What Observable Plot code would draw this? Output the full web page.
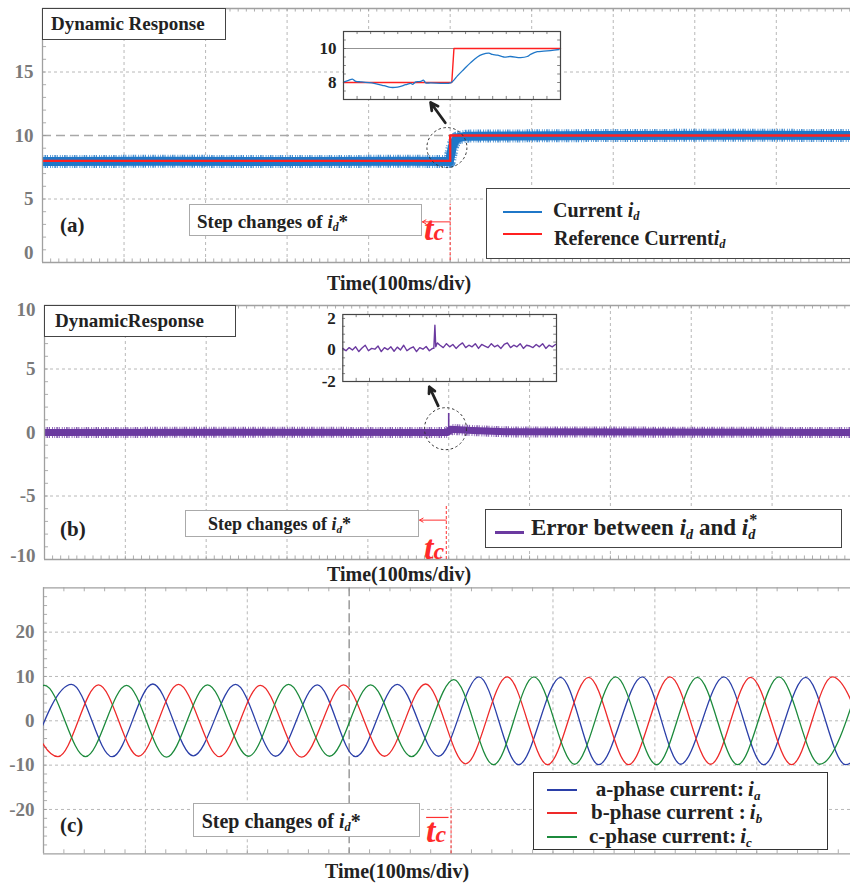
<!DOCTYPE html>
<html><head><meta charset="utf-8">
<script src="https://cdn.jsdelivr.net/npm/d3@7"></script>
<script src="https://cdn.jsdelivr.net/npm/@observablehq/plot@0.6"></script>
<style>
html,body{margin:0;padding:0;background:#fff;overflow:hidden;}
#wrap{position:relative;width:850px;height:886px;overflow:hidden;font-family:"Liberation Serif","Times New Roman",Times,serif;font-weight:bold;color:#222;}
#wrap svg{display:block;}
#wrap svg text{font-family:"Liberation Serif","Times New Roman",Times,serif;}
.t{position:absolute;white-space:nowrap;}
.box{position:absolute;background:#fff;box-sizing:border-box;}
sub{font-size:0.62em;vertical-align:-0.28em;line-height:0;}
</style>
</head><body><div id="wrap"></div>
<script>
const serif = '"Liberation Serif","Times New Roman",Times,serif';

// ---------------- DATA ----------------
// (a) d-axis current and its reference (A), time in ms
const stepTime = 500;
const refTimeA = [0, 500, 500, 991];
const refValA  = [8, 8, 10, 10];
const curTimeA = [0, 150, 300, 450, 499, 503, 508, 520, 700, 850, 991];
const curValA  = [7.95, 7.97, 7.95, 7.97, 7.95, 9.2, 9.8, 9.95, 10.0, 10.02, 10.0];
const yTicksA  = [5, 10, 15];
const yTicksA0 = [0];
// (a) zoomed inset
const insetTimeA = [0.3, 2.6, 4.1, 5.7, 8.0, 14.1, 18.7, 21.8, 24.9, 28.7, 31.0, 31.8, 33.3, 35.6, 36.8, 37.9, 40.2, 49.4, 50.9, 52.5, 55.5, 58.6, 61.7, 64.0, 67.0, 68.6, 70.9, 73.9, 77.0, 81.6, 84.7, 86.2, 89.3, 92.3, 95.4, 99.3];
const insetValA  = [8.04, 8.14, 8.2, 8.06, 8.04, 7.95, 7.81, 7.71, 7.73, 7.87, 7.95, 7.89, 8.04, 8.06, 8.14, 7.98, 7.98, 7.98, 8.14, 8.39, 8.78, 9.17, 9.5, 9.65, 9.73, 9.65, 9.61, 9.5, 9.53, 9.46, 9.53, 9.65, 9.81, 9.84, 9.88, 9.94];
const insetRefTimeA = [0, 49.9, 50.9, 100];
const insetRefValA  = [8, 8, 10, 10];
const insetTicksA = [8, 10];

// (b) error between id and id*
const errTimeB = [0, 250, 499, 502, 530, 570, 997];
const errValB  = [0.0, 0.02, 0.0, 0.25, 0.15, 0.05, 0.0];
const errSpikeTimeB = [500];
const errSpikeValB  = [1.5];
const yTicksB = [-5, 0, 5];
// (b) zoomed inset (samples, evenly spaced)
const insetPreValB  = [0.1, -0.05, 0.15, 0.0, 0.2, -0.1, 0.12, 0.3, -0.05, 0.1, 0.05, 0.25, -0.1, 0.15, 0.02, 0.2, -0.08, 0.18, 0.0, 0.3, -0.05, 0.1, 0.2, -0.1, 0.15, 0.05, 0.22, -0.05, 0.1];
const insetSpikeTimeB = [42.6, 43.1, 43.5, 44.2];
const insetSpikeValB  = [0.1, 1.57, 0.2, 0.45];
const insetPostValB = [0.3, 0.15, 0.4, 0.2, 0.35, 0.1, 0.3, 0.45, 0.15, 0.3, 0.2, 0.4, 0.1, 0.35, 0.25, 0.15, 0.4, 0.2, 0.3, 0.1, 0.35, 0.45, 0.15, 0.3, 0.2, 0.4, 0.1, 0.3, 0.25, 0.15, 0.35, 0.2, 0.4, 0.1, 0.3, 0.2, 0.35];
const insetTicksB = [-2, 0, 2];

// (c) three-phase currents: peaks and troughs (ms, A)
const timeIa = [-12.8, 27.5, 67.4, 107.3, 147.0, 188.5, 227.7, 268.7, 306.3, 347.2, 387.7, 427.3, 466.3, 507.5, 544.8, 587.7, 625.3, 667.8, 706.8, 748.0, 787.2, 828];
const valIa  = [-8.0, 8.2, -8.1, 8.3, -7.9, 8.2, -8.0, 8.1, -8.1, 8.2, -8.0, 9.9, -9.9, 9.8, -9.9, 9.9, -9.8, 9.9, -9.9, 9.8, -9.9, 9.8];
const timeIb = [-25.9, 14.2, 54, 93.3, 132.5, 172.8, 213, 253.3, 294.5, 334.7, 375, 414.2, 455, 494.7, 535, 574.2, 614.8, 654.7, 694, 734.2, 774.2, 813.8];
const valIb  = [8.0, -8.1, 8.1, -8.0, 8.2, -8.1, 8.0, -8.2, 8.1, -8.0, 8.3, -9.7, 9.9, -9.9, 9.8, -9.9, 9.9, -9.8, 9.8, -9.9, 9.9, -9.9];
const timeIc = [-39, 1, 41.2, 81.5, 120.7, 161, 201.2, 240.5, 280.7, 321, 361.2, 402.7, 441.7, 481.3, 521.2, 561.5, 601.7, 641.7, 681.2, 721.8, 761.7, 802];
const valIc  = [-8.0, 8.0, -8.1, 8.0, -8.2, 8.1, -8.0, 8.2, -8.0, 8.1, -8.1, 9.3, -9.9, 9.9, -9.8, 9.9, -9.9, 9.8, -9.9, 9.9, -9.8, 9.9];
const yTicksC = [-20, -10, 0, 10, 20];
const stepTimeC = 400, markTimeC = 300;

// ---------------- HELPERS ----------------
const rows = (ts, vs) => ts.map((t, i) => ({t, v: vs[i]}));
const wrap = document.getElementById("wrap");
function addPlot(svg, left, top) {
  const d = document.createElement("div");
  d.style.cssText = `position:absolute;left:${left}px;top:${top}px;`;
  d.appendChild(svg); wrap.appendChild(d);
}
function addBox(left, top, w, h, border) {
  const d = document.createElement("div");
  d.className = "box";
  d.style.cssText = `left:${left}px;top:${top}px;width:${w}px;height:${h}px;border:${border};`;
  wrap.appendChild(d);
}
function addText(html, x, baseline, size, color = "#222", extra = "") {
  const d = document.createElement("div");
  d.className = "t";
  d.innerHTML = html;
  d.style.cssText = `left:${x}px;top:${baseline - 0.8375 * size}px;font-size:${size}px;line-height:${size}px;color:${color};${extra}`;
  wrap.appendChild(d);
}
function addLine(x1, x2, y, color, w) {
  const d = document.createElement("div");
  d.style.cssText = `position:absolute;left:${x1}px;top:${Math.round(y - w / 2)}px;width:${x2 - x1}px;height:${w}px;background:${color};`;
  wrap.appendChild(d);
}
const plotStyle = {background: "transparent", fontFamily: serif, fontWeight: "bold"};
const gridStyle = {stroke: "#b0b0b0", strokeDasharray: "3,3", strokeWidth: 0.9};
const frameCol = "#a0a0a0";
const labelStyle = {fontSize: 19, fontWeight: "bold", fontFamily: serif, fill: "#7a7a7a", textAnchor: "end"};
const fringe = "0.8,1.2,1.6,0.8,1.1,2,0.9,1.4";

function frameMarks(x0, x1, y0, y1) {
  return [
    Plot.ruleY([y0, y1], {x1: x0, x2: x1, stroke: frameCol, strokeWidth: 1.3}),
    Plot.ruleX([x0], {y1: y0, y2: y1, stroke: frameCol, strokeWidth: 1.3})
  ];
}
function tickMarks(xs, ys, x0, x1, y0, y1, lx, ly) {
  return [
    Plot.ruleX(xs, {y1: y0, y2: y0 + ly, stroke: "#999", strokeWidth: 0.8}),
    Plot.ruleX(xs, {y1: y1, y2: y1 - ly, stroke: "#999", strokeWidth: 0.8}),
    Plot.ruleY(ys, {x1: x0, x2: x0 + lx, stroke: "#999", strokeWidth: 0.8})
  ];
}

// ---------------- PANEL (a) ----------------
const xMaxA = 991;
const plotA = Plot.plot({
  width: 850, height: 270, marginLeft: 42, marginRight: 0, marginTop: 8, marginBottom: 8,
  x: {domain: [0, xMaxA], axis: null},
  y: {domain: [0, 20], axis: null},
  style: plotStyle,
  marks: [
    Plot.ruleX(d3.range(100, xMaxA, 100), {...gridStyle}),
    Plot.ruleY([5, 15], {...gridStyle}),
    Plot.ruleY([10], {stroke: "#a8a8a8", strokeDasharray: "9,5", strokeWidth: 1.4}),
    ...tickMarks(d3.range(10, xMaxA, 10), d3.range(1, 20, 1), 0, xMaxA, 0, 20, 5, 0.28),
    Plot.line(rows(curTimeA, curValA), {x: "t", y: "v", stroke: "#1f77c8", strokeWidth: 13, strokeDasharray: fringe, strokeLinecap: "butt", strokeOpacity: 0.8}),
    Plot.line(rows(curTimeA, curValA), {x: "t", y: "v", stroke: "#1f77c8", strokeWidth: 9, strokeLinecap: "butt"}),
    Plot.line(rows(refTimeA, refValA), {x: "t", y: "v", stroke: "#ff2020", strokeWidth: 2.4, strokeLinecap: "butt"}),
    ...frameMarks(0, xMaxA, 0, 20),
    Plot.text(yTicksA, {x: 0, y: d => d, text: d => String(d), dx: -9, ...labelStyle}),
    Plot.text(yTicksA0, {x: 0, y: d => d, text: d => String(d), dx: -9, dy: -10, ...labelStyle}),
    Plot.dot([{t: stepTime - 4, v: 9.05}], {x: "t", y: "v", r: 20, stroke: "#333", strokeDasharray: "2.5,2.5", fill: "none", strokeWidth: 1}),
    Plot.arrow([{x1: stepTime - 6, y1: 11.0, x2: stepTime - 24, y2: 12.6}], {x1: "x1", y1: "y1", x2: "x2", y2: "y2", stroke: "#222", strokeWidth: 2.8, headLength: 14, headAngle: 55}),
    Plot.arrow([{x1: stepTime, x2: stepTime - 34, y: 3.2}], {x1: "x1", x2: "x2", y1: "y", y2: "y", stroke: "#ff3030", strokeWidth: 1, headLength: 6}),
    Plot.ruleX([stepTime], {y1: 0.15, y2: 4.6, stroke: "#ff3030", strokeDasharray: "3,2", strokeWidth: 1})
  ]
});
addPlot(plotA, 0, 0);

// inset (a)
const insetA = Plot.plot({
  width: 252, height: 72, marginLeft: 33, marginRight: 2, marginTop: 2, marginBottom: 2,
  x: {domain: [0, 100], axis: null},
  y: {domain: [7, 11], axis: null},
  style: plotStyle,
  marks: [
    Plot.frame({fill: "white", stroke: "none"}),
    Plot.ruleY([10], {stroke: "#777", strokeWidth: 0.8}),
    Plot.ruleX(d3.range(6.25, 100, 6.25), {y1: 7, y2: 7.18, stroke: "#666", strokeWidth: 0.8}),
    Plot.ruleX(d3.range(6.25, 100, 6.25), {y1: 11, y2: 10.82, stroke: "#666", strokeWidth: 0.8}),
    Plot.ruleY(d3.range(7.5, 11, 0.5), {x1: 0, x2: 1.3, stroke: "#666", strokeWidth: 0.8}),
    Plot.ruleY(d3.range(7.5, 11, 0.5), {x1: 100, x2: 98.7, stroke: "#666", strokeWidth: 0.8}),
    Plot.line(rows(insetRefTimeA, insetRefValA), {x: "t", y: "v", stroke: "#ff2020", strokeWidth: 1.4}),
    Plot.line(rows(insetTimeA, insetValA), {x: "t", y: "v", stroke: "#1f77c8", strokeWidth: 1.3, curve: "catmull-rom"}),
    Plot.frame({stroke: "#444", strokeWidth: 1.2}),
    Plot.text(insetTicksA, {x: 0, y: d => d, text: d => String(d), dx: -7, fontSize: 17, fontWeight: "bold", fontFamily: serif, fill: "#222", textAnchor: "end"})
  ]
});
addPlot(insetA, 310, 29);

// ---------------- PANEL (b) ----------------
const xMaxB = 997;
const plotB = Plot.plot({
  width: 850, height: 270, marginLeft: 44, marginRight: 0, marginTop: 8, marginBottom: 8,
  x: {domain: [0, xMaxB], axis: null},
  y: {domain: [-10, 10], axis: null},
  style: plotStyle,
  marks: [
    Plot.ruleX(d3.range(100, xMaxB, 100), {...gridStyle}),
    Plot.ruleY([-5, 0, 5], {...gridStyle}),
    ...tickMarks(d3.range(10, xMaxB, 10), d3.range(-9, 10, 1), 0, xMaxB, -10, 10, 5, 0.28),
    Plot.line(rows(errTimeB, errValB), {x: "t", y: "v", stroke: "#6b3aa0", strokeWidth: 11, strokeDasharray: fringe, strokeLinecap: "butt", strokeOpacity: 0.8}),
    Plot.line(rows(errTimeB, errValB), {x: "t", y: "v", stroke: "#6b3aa0", strokeWidth: 7, strokeLinecap: "butt"}),
    Plot.ruleX(rows(errSpikeTimeB, errSpikeValB), {x: "t", y1: 0, y2: "v", stroke: "#6b3aa0", strokeWidth: 1.6}),
    ...frameMarks(0, xMaxB, -10, 10),
    Plot.text(yTicksB, {x: 0, y: d => d, text: d => String(d), dx: -9, ...labelStyle}),
    Plot.text([10], {x: 0, y: d => d, text: d => String(d), dx: -9, dy: 4, ...labelStyle}),
    Plot.text([-10], {x: 0, y: d => d, text: d => String(d), dx: -9, dy: -4, ...labelStyle}),
    Plot.dot([{t: stepTime - 4, v: 0.3}], {x: "t", y: "v", r: 21, stroke: "#333", strokeDasharray: "2.5,2.5", fill: "none", strokeWidth: 1}),
    Plot.arrow([{x1: stepTime - 13, y1: 2.1, x2: stepTime - 24, y2: 3.6}], {x1: "x1", y1: "y1", x2: "x2", y2: "y2", stroke: "#222", strokeWidth: 2.8, headLength: 14, headAngle: 55}),
    Plot.arrow([{x1: stepTime - 3, x2: stepTime - 36, y: -6.9}], {x1: "x1", x2: "x2", y1: "y", y2: "y", stroke: "#ff3030", strokeWidth: 1, headLength: 6}),
    Plot.ruleX([stepTime - 3], {y1: -10, y2: -5.8, stroke: "#ff3030", strokeDasharray: "3,2", strokeWidth: 1})
  ]
});
addPlot(plotB, 0, 297);

// inset (b)
const insetRowsB = [
  ...rows(d3.range(insetPreValB.length).map(i => i * 1.5), insetPreValB),
  ...rows(insetSpikeTimeB, insetSpikeValB),
  ...rows(d3.range(insetPostValB.length).map(i => 45.5 + i * 1.5), insetPostValB)
];
const insetB = Plot.plot({
  width: 249, height: 71, marginLeft: 33.3, marginRight: 2, marginTop: 2, marginBottom: 2,
  x: {domain: [0, 100], axis: null},
  y: {domain: [-2, 2.25], axis: null},
  style: {...plotStyle, overflow: "visible"},
  marks: [
    Plot.frame({fill: "white", stroke: "none"}),
    Plot.ruleX(d3.range(6.25, 100, 6.25), {y1: -2, y2: -1.8, stroke: "#666", strokeWidth: 0.8}),
    Plot.ruleX(d3.range(6.25, 100, 6.25), {y1: 2.25, y2: 2.05, stroke: "#666", strokeWidth: 0.8}),
    Plot.ruleY(d3.range(-1.5, 2.25, 0.5), {x1: 0, x2: 1.3, stroke: "#666", strokeWidth: 0.8}),
    Plot.ruleY(d3.range(-1.5, 2.25, 0.5), {x1: 100, x2: 98.7, stroke: "#666", strokeWidth: 0.8}),
    Plot.line(insetRowsB, {x: "t", y: "v", stroke: "#6b3aa0", strokeWidth: 1.4}),
    Plot.frame({stroke: "#444", strokeWidth: 1.2}),
    Plot.text(insetTicksB, {x: 0, y: d => d, text: d => String(d), dx: -7, fontSize: 17, fontWeight: "bold", fontFamily: serif, fill: "#222", textAnchor: "end"})
  ]
});
addPlot(insetB, 309, 312);

// ---------------- PANEL (c) ----------------
const xMaxC = 792;
const plotC = Plot.plot({
  width: 850, height: 280, marginLeft: 43, marginRight: 0, marginTop: 7.3, marginBottom: 6.7,
  x: {domain: [0, xMaxC], axis: null},
  y: {domain: [-30, 30], axis: null},
  style: plotStyle,
  marks: [
    Plot.ruleX(d3.range(100, xMaxC, 100).filter(d => d !== markTimeC), {...gridStyle}),
    Plot.ruleX([markTimeC], {stroke: "#a0a0a0", strokeDasharray: "9,4", strokeWidth: 1.6}),
    Plot.ruleY(yTicksC, {...gridStyle}),
    ...tickMarks(d3.range(20, xMaxC, 20), d3.range(-28, 30, 2), 0, xMaxC, -30, 30, 4, 0.9),
    ...frameMarks(0, xMaxC, -30, 30),
    Plot.line(rows(timeIa, valIa), {x: "t", y: "v", stroke: "#2b3fa8", strokeWidth: 1.3, curve: "monotone-x", clip: true}),
    Plot.line(rows(timeIb, valIb), {x: "t", y: "v", stroke: "#ee2a2a", strokeWidth: 1.3, curve: "monotone-x", clip: true}),
    Plot.line(rows(timeIc, valIc), {x: "t", y: "v", stroke: "#1c8a3c", strokeWidth: 1.3, curve: "monotone-x", clip: true}),
    Plot.text(yTicksC, {x: 0, y: d => d, text: d => String(d), dx: -9, ...labelStyle}),
    Plot.ruleY([-21.8], {x1: stepTimeC - 24, x2: stepTimeC - 2, stroke: "#ff3030", strokeWidth: 1.2}),
    Plot.ruleX([stepTimeC], {y1: -30, y2: -19.6, stroke: "#ff3030", strokeDasharray: "3,2", strokeWidth: 1})
  ]
});
addPlot(plotC, 0, 580);

// ---------------- ANNOTATIONS / LEGENDS ----------------
const idHtml = '<i>i</i><sub><i>d</i></sub>';
const tcHtml = '<i style="font-size:34px">t</i><i style="font-size:24px">c</i>';
const red = "#ff2a2a";

// (a)
addBox(42, 8, 184, 32, "1px solid #444");
addText("Dynamic Response", 51, 29.5, 19);
addText("(a)", 60, 233, 21);
addBox(189, 203.5, 233, 32.5, "1px solid #aaa");
addText("Step changes of " + idHtml + "*", 197, 228, 19);
addText(tcHtml, 424, 240, 34, red, "line-height:34px;");
addBox(486, 188, 380, 71, "1.5px solid #444");
addLine(503, 542, 212, "#1f77c8", 2);
addText("Current " + idHtml, 553, 217, 20);
addLine(503, 542, 234, "#ff2020", 2);
addText("Reference Current" + idHtml, 554, 245, 20);
addText("Time(100ms/div)", 327, 290, 20);

// (b)
addBox(44, 305, 192, 32, "1px solid #444");
addText("DynamicResponse", 55, 326.5, 19);
addText("(b)", 60, 537, 21);
addBox(185, 510, 234, 27, "1px solid #aaa");
addText("Step changes of " + idHtml + "*", 208, 530, 18);
addText(tcHtml, 424, 559, 34, red, "line-height:34px;");
addBox(485, 509, 357, 38.5, "1.5px solid #444");
addLine(495, 524, 532, "#6b3aa0", 3);
addText('Error between <i>i</i><sub><i>d</i></sub> and <i>i</i><span style="position:relative;display:inline-block;"><span style="position:absolute;left:1px;top:-0.55em;font-size:0.7em;">*</span><sub><i>d</i></sub></span>', 531, 535.7, 23);
addText("Time(100ms/div)", 327, 581, 20);

// (c)
addText("(c)", 60, 833, 21);
addBox(193, 803, 227, 33.5, "1px solid #aaa");
addText("Step changes of " + idHtml + "*", 201.7, 828, 20);
addText(tcHtml, 426, 842, 34, red, "line-height:34px;");
addBox(533, 772, 295, 77.5, "1.5px solid #333");
addLine(547, 577, 790, "#2b3fa8", 2);
addText('a-phase current:<span style="margin-left:4px"><i>i</i><sub><i>a</i></sub></span>', 595.7, 797, 21);
addLine(547, 577, 813, "#ee2a2a", 2);
addText('b-phase current :<span style="margin-left:4px"><i>i</i><sub><i>b</i></sub></span>', 591, 820, 21);
addLine(547, 577, 837, "#1c8a3c", 2);
addText('c-phase current:<span style="margin-left:4px"><i>i</i><sub><i>c</i></sub></span>', 589, 843.5, 21);
addText("Time(100ms/div)", 325, 878, 20);
</script>
</body></html>
